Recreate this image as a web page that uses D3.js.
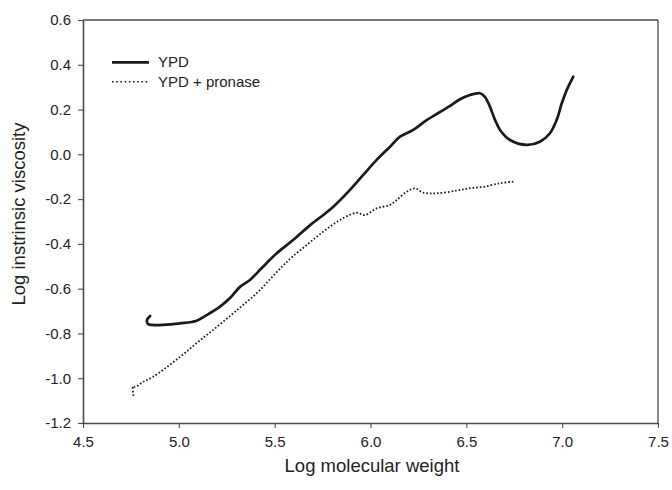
<!DOCTYPE html>
<html><head><meta charset="utf-8">
<script src="https://cdn.jsdelivr.net/npm/d3@7"></script>
<style>body{margin:0;background:#fff}svg{display:block}text{font-family:"Liberation Sans",Arial,sans-serif;fill:#222}</style>
</head><body><svg id="c" width="672" height="490"></svg>
<script>
const xTicks=[4.5,5.0,5.5,6.0,6.5,7.0,7.5];
const yTicks=[-1.2,-1.0,-0.8,-0.6,-0.4,-0.2,0.0,0.2,0.4,0.6];
const seriesNames=["YPD","YPD + pronase"];
const ypdX=[4.850,4.834,4.839,4.860,4.917,5.006,5.093,5.145,5.215,5.267,5.319,5.371,5.439,5.511,5.596,5.685,5.754,5.806,5.893,5.962,6.032,6.102,6.154,6.223,6.293,6.363,6.415,6.467,6.519,6.571,6.597,6.623,6.650,6.676,6.728,6.815,6.884,6.936,6.971,6.998,7.024,7.058];
const ypdY=[-0.722,-0.740,-0.758,-0.762,-0.762,-0.755,-0.743,-0.718,-0.680,-0.642,-0.592,-0.561,-0.502,-0.442,-0.383,-0.316,-0.271,-0.234,-0.159,-0.092,-0.025,0.034,0.079,0.109,0.153,0.189,0.216,0.246,0.265,0.273,0.257,0.213,0.153,0.109,0.064,0.042,0.056,0.094,0.153,0.228,0.287,0.347];
const proX=[4.763,4.761,4.771,4.813,4.865,5.006,5.100,5.178,5.267,5.335,5.413,5.502,5.580,5.667,5.754,5.841,5.928,5.971,6.032,6.102,6.137,6.189,6.232,6.275,6.345,6.450,6.510,6.589,6.676,6.745];
const proY=[-1.079,-1.035,-1.039,-1.017,-0.994,-0.905,-0.838,-0.785,-0.722,-0.673,-0.615,-0.534,-0.467,-0.405,-0.345,-0.293,-0.261,-0.271,-0.241,-0.226,-0.204,-0.167,-0.152,-0.171,-0.174,-0.162,-0.152,-0.145,-0.129,-0.122];

const svg=d3.select("#c");
const L=83,R=658,T=20,B=423;
const x=d3.scaleLinear().domain([4.5,7.5]).range([L,R]);
const y=d3.scaleLinear().domain([-1.2,0.6]).range([B,T]);
const axisCol="#4a4a4a";

svg.append("line").attr("x1",L).attr("x2",R).attr("y1",T).attr("y2",T).attr("stroke",axisCol).attr("stroke-width",1.3);
svg.append("line").attr("x1",R).attr("x2",R).attr("y1",T).attr("y2",B).attr("stroke",axisCol).attr("stroke-width",1.3);

const fmt=d=>d3.format(".1f")(d).replace("\u2212","-");
const xa=svg.append("g").attr("transform",`translate(0,${B})`)
  .call(d3.axisBottom(x).tickValues(xTicks).tickFormat(fmt).tickSize(5).tickSizeOuter(0).tickPadding(8));
const ya=svg.append("g").attr("transform",`translate(${L},0)`)
  .call(d3.axisLeft(y).tickValues(yTicks).tickFormat(fmt).tickSize(5).tickSizeOuter(0).tickPadding(7));
[xa,ya].forEach(g=>{
  g.select(".domain").attr("stroke",axisCol).attr("stroke-width",1.6);
  g.selectAll(".tick line").attr("stroke",axisCol).attr("stroke-width",1.1);
  g.selectAll(".tick text").attr("font-size",15).attr("fill","#222").attr("font-family","Liberation Sans,Arial,sans-serif");
});

svg.append("text").attr("x",372).attr("y",472).attr("text-anchor","middle").attr("font-size",18.5).text("Log molecular weight");
svg.append("text").attr("transform",`translate(25,214) rotate(-90)`).attr("text-anchor","middle").attr("font-size",18.5).text("Log instrinsic viscosity");

const line=d3.line().x(d=>x(d[0])).y(d=>y(d[1])).curve(d3.curveCatmullRom.alpha(0.5));
const ypd=ypdX.map((v,i)=>[v,ypdY[i]]);
const pro=proX.map((v,i)=>[v,proY[i]]);
svg.append("path").datum(ypd).attr("d",line).attr("fill","none").attr("stroke","#1a1a1a").attr("stroke-width",2.7).attr("stroke-linejoin","round").attr("stroke-linecap","round");
svg.append("path").datum(pro).attr("d",line).attr("fill","none").attr("stroke","#1a1a1a").attr("stroke-width",1.8).attr("stroke-dasharray","1.6,2");

const lg=svg.append("g");
lg.append("line").attr("x1",112).attr("x2",149).attr("y1",62.3).attr("y2",62.3).attr("stroke","#1a1a1a").attr("stroke-width",2.7);
lg.append("line").attr("x1",112).attr("x2",149).attr("y1",81.7).attr("y2",81.7).attr("stroke","#1a1a1a").attr("stroke-width",1.6).attr("stroke-dasharray","1.6,2.6");
lg.append("text").attr("x",158).attr("y",67).attr("font-size",15).text(seriesNames[0]);
lg.append("text").attr("x",158).attr("y",86.5).attr("font-size",15).text(seriesNames[1]);
</script></body></html>
